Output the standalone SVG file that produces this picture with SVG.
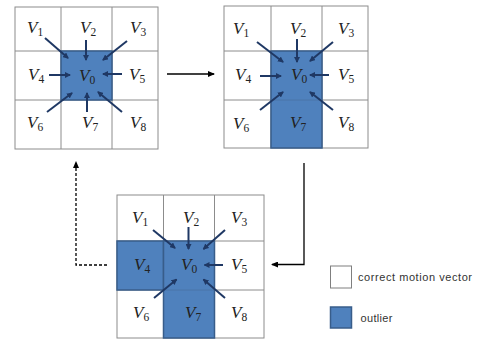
<svg xmlns="http://www.w3.org/2000/svg" width="479" height="341" viewBox="0 0 479 341">
<defs>
<marker id="ah" markerWidth="6" markerHeight="6" refX="5" refY="3" orient="auto" markerUnits="userSpaceOnUse"><path d="M0,0 L6,3 L0,6 Z" fill="#1f3864"/></marker>
<marker id="bh" markerWidth="7" markerHeight="6" refX="6" refY="3" orient="auto" markerUnits="userSpaceOnUse"><path d="M0,0 L7,3 L0,6 Z" fill="#000"/></marker>
<style>
.cell{fill:#fff;stroke:#8c8c8c;stroke-width:1}
.blue{fill:#4f81bd;stroke:#385d8a;stroke-width:1.5}
.v{font-family:"Liberation Serif",serif;font-style:italic;font-size:17px;fill:#222}
.s{font-style:normal;font-size:11.5px}
.a{stroke:#1f3864;stroke-width:2;fill:none;marker-end:url(#ah)}
.c{stroke:#000;stroke-width:1.3;fill:none;marker-end:url(#bh)}
.lg{font-family:"Liberation Sans",Arial,sans-serif;font-size:11px;fill:#333}
</style>
</defs>
<g id="grid1">
<rect class="cell" x="15" y="7" width="143" height="142"/>
<line x1="61" y1="7" x2="61" y2="149" stroke="#8c8c8c"/>
<line x1="112" y1="7" x2="112" y2="149" stroke="#8c8c8c"/>
<line x1="15" y1="51" x2="158" y2="51" stroke="#8c8c8c"/>
<line x1="15" y1="100" x2="158" y2="100" stroke="#8c8c8c"/>
<rect class="blue" x="61" y="51" width="51" height="49"/>
<text class="v" x="27" y="33">V<tspan class="s" dy="3">1</tspan></text>
<text class="v" x="80" y="33">V<tspan class="s" dy="3">2</tspan></text>
<text class="v" x="130" y="33">V<tspan class="s" dy="3">3</tspan></text>
<text class="v" x="28" y="80">V<tspan class="s" dy="3">4</tspan></text>
<text class="v" x="79" y="81">V<tspan class="s" dy="3">0</tspan></text>
<text class="v" x="129" y="80">V<tspan class="s" dy="3">5</tspan></text>
<text class="v" x="27" y="128">V<tspan class="s" dy="3">6</tspan></text>
<text class="v" x="82" y="128">V<tspan class="s" dy="3">7</tspan></text>
<text class="v" x="130" y="128">V<tspan class="s" dy="3">8</tspan></text>
<line class="a" x1="45" y1="38" x2="68" y2="58"/>
<line class="a" x1="86" y1="40" x2="86" y2="60"/>
<line class="a" x1="127" y1="41" x2="103" y2="60"/>
<line class="a" x1="49" y1="75" x2="70" y2="75"/>
<line class="a" x1="122" y1="74" x2="103" y2="74"/>
<line class="a" x1="47" y1="112" x2="72" y2="93"/>
<line class="a" x1="87" y1="112" x2="87" y2="93"/>
<line class="a" x1="122" y1="112" x2="98" y2="92"/>
</g>
<g id="grid2">
<rect class="cell" x="224" y="6" width="144" height="142"/>
<line x1="271" y1="6" x2="271" y2="148" stroke="#8c8c8c"/>
<line x1="322" y1="6" x2="322" y2="148" stroke="#8c8c8c"/>
<line x1="224" y1="51" x2="368" y2="51" stroke="#8c8c8c"/>
<line x1="224" y1="100" x2="368" y2="100" stroke="#8c8c8c"/>
<rect class="blue" x="271" y="51" width="51" height="97"/>
<line x1="271" y1="100" x2="322" y2="100" stroke="#4a74a8" stroke-width="1"/>
<text class="v" x="233" y="34">V<tspan class="s" dy="3">1</tspan></text>
<text class="v" x="290" y="34">V<tspan class="s" dy="3">2</tspan></text>
<text class="v" x="338" y="34">V<tspan class="s" dy="3">3</tspan></text>
<text class="v" x="235" y="80">V<tspan class="s" dy="3">4</tspan></text>
<text class="v" x="291" y="80">V<tspan class="s" dy="3">0</tspan></text>
<text class="v" x="338" y="80">V<tspan class="s" dy="3">5</tspan></text>
<text class="v" x="233" y="129">V<tspan class="s" dy="3">6</tspan></text>
<text class="v" x="290" y="128">V<tspan class="s" dy="3">7</tspan></text>
<text class="v" x="338" y="128">V<tspan class="s" dy="3">8</tspan></text>
<line class="a" x1="257" y1="42" x2="283" y2="62"/>
<line class="a" x1="297" y1="39" x2="297" y2="62"/>
<line class="a" x1="333" y1="42" x2="310" y2="61"/>
<line class="a" x1="260" y1="76" x2="281" y2="76"/>
<line class="a" x1="329" y1="75" x2="310" y2="75"/>
<line class="a" x1="260" y1="110" x2="283" y2="92"/>
<line class="a" x1="333" y1="110" x2="310" y2="92"/>
</g>
<g id="grid3">
<rect class="cell" x="117" y="195" width="147" height="143"/>
<line x1="163.5" y1="195" x2="163.5" y2="338" stroke="#8c8c8c"/>
<line x1="214.5" y1="195" x2="214.5" y2="338" stroke="#8c8c8c"/>
<line x1="117" y1="241" x2="264" y2="241" stroke="#8c8c8c"/>
<line x1="117" y1="290" x2="264" y2="290" stroke="#8c8c8c"/>
<rect class="blue" x="117" y="241" width="46.5" height="49"/>
<rect class="blue" x="163.5" y="241" width="51" height="97"/>
<line x1="163.5" y1="290" x2="214.5" y2="290" stroke="#4a74a8" stroke-width="1"/>
<text class="v" x="132" y="223">V<tspan class="s" dy="3">1</tspan></text>
<text class="v" x="183" y="223">V<tspan class="s" dy="3">2</tspan></text>
<text class="v" x="231" y="223">V<tspan class="s" dy="3">3</tspan></text>
<text class="v" x="134" y="270">V<tspan class="s" dy="3">4</tspan></text>
<text class="v" x="181" y="270">V<tspan class="s" dy="3">0</tspan></text>
<text class="v" x="231" y="270">V<tspan class="s" dy="3">5</tspan></text>
<text class="v" x="133" y="318">V<tspan class="s" dy="3">6</tspan></text>
<text class="v" x="185" y="318">V<tspan class="s" dy="3">7</tspan></text>
<text class="v" x="231" y="318">V<tspan class="s" dy="3">8</tspan></text>
<line class="a" x1="153" y1="230" x2="175" y2="248"/>
<line class="a" x1="188.5" y1="227" x2="188.5" y2="249"/>
<line class="a" x1="225" y1="230" x2="203.5" y2="249"/>
<line class="a" x1="223" y1="265" x2="204.5" y2="265"/>
<line class="a" x1="154" y1="298" x2="176.5" y2="279.5"/>
<line class="a" x1="225" y1="298" x2="203.5" y2="279.5"/>
</g>
<g id="connectors">
<line class="c" x1="167" y1="74" x2="214" y2="74"/>
<polyline class="c" points="304,163 304,264.5 272,264.5"/>
<polyline class="c" points="107,265 76,265 76,162" stroke-dasharray="3,2"/>
</g>
<g id="legend">
<rect x="330.5" y="266" width="21" height="22" fill="#fff" stroke="#7f7f7f"/>
<text class="lg" x="358" y="281" textLength="114">correct motion vector</text>
<rect x="330.5" y="307" width="21" height="21" fill="#4f81bd" stroke="#385d8a" stroke-width="1.5"/>
<text class="lg" x="360.5" y="321.5" textLength="32">outlier</text>
</g>
</svg>
